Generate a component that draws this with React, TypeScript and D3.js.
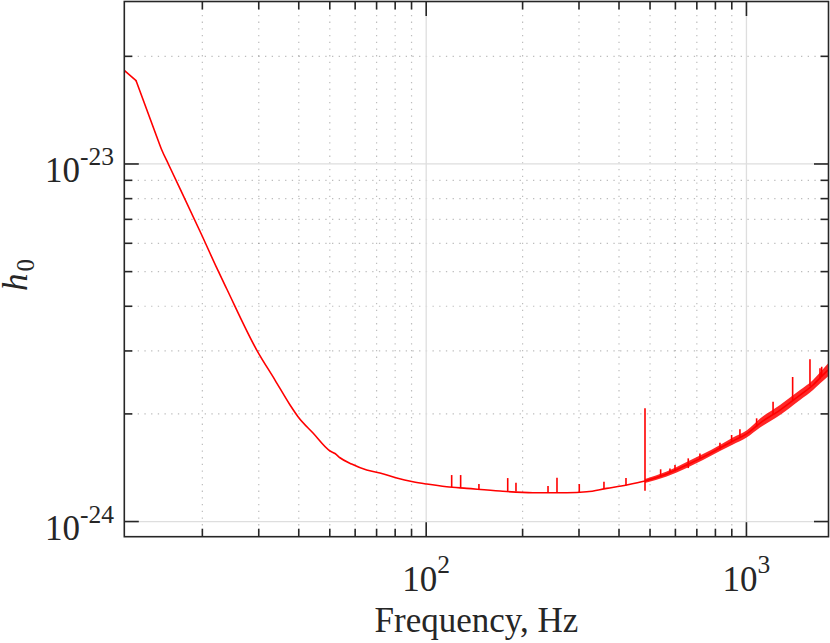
import React from 'react';
import * as d3 from 'd3';

// main trace, Hz / strain amplitude
const freqHz = [
  11.43, 12.42, 14.41, 14.94, 15.66, 19.91, 22.18, 23.84, 29.57, 33.72, 37.57,
  39.79, 44.32, 50.08, 51.9, 53.8, 58.5, 65.2, 71.7, 80.9, 90.9, 100.4, 115.9,
  133.8, 170.0, 215.5, 274.5, 317.1, 366.0, 422.7, 482.2, 563.6, 650.6, 731.6,
  826.6, 907.6, 1001, 1103, 1273, 1470, 1614, 1697, 1797,
];
const h0 = [
  1.824e-23, 1.71e-23, 1.192e-23, 1.094e-23, 1.0e-23, 6.33e-24, 5.12e-24,
  4.47e-24, 3.017e-24, 2.487e-24, 2.118e-24, 1.964e-24, 1.768e-24, 1.575e-24,
  1.55e-24, 1.508e-24, 1.448e-24, 1.393e-24, 1.367e-24, 1.323e-24, 1.292e-24,
  1.273e-24, 1.251e-24, 1.238e-24, 1.217e-24, 1.204e-24, 1.204e-24, 1.211e-24,
  1.238e-24, 1.265e-24, 1.298e-24, 1.358e-24, 1.439e-24, 1.514e-24, 1.605e-24,
  1.68e-24, 1.758e-24, 1.886e-24, 2.05e-24, 2.258e-24, 2.409e-24, 2.52e-24,
  2.653e-24,
];

// noise envelope above ~480 Hz
const bandFreq = [482.2, 563.6, 650.6, 731.6, 826.6, 907.6, 1001, 1103, 1273, 1470, 1614, 1697, 1797];
const bandLo = [1.282e-24, 1.336e-24, 1.411e-24, 1.486e-24, 1.574e-24, 1.642e-24, 1.718e-24, 1.832e-24, 1.986e-24, 2.188e-24, 2.332e-24, 2.432e-24, 2.545e-24];
const bandHi = [1.315e-24, 1.38e-24, 1.467e-24, 1.544e-24, 1.637e-24, 1.718e-24, 1.797e-24, 1.941e-24, 2.118e-24, 2.332e-24, 2.488e-24, 2.611e-24, 2.767e-24];

// narrow lines
const spikeFreq = [
  120.1, 128.1, 146.1, 179.7, 190.7, 240.1, 256.1, 300.6, 359.0, 420.6, 482.2,
  539.6, 577.0, 598.3, 658.1, 715.8, 826.6, 898.9, 954.3, 1076, 1211, 1394,
  1579, 1697, 1718,
];
const spikeLo = [
  1.249e-24, 1.245e-24, 1.233e-24, 1.217e-24, 1.213e-24, 1.201e-24, 1.201e-24,
  1.207e-24, 1.233e-24, 1.261e-24, 1.22e-24, 1.336e-24, 1.376e-24, 1.389e-24,
  1.411e-24, 1.496e-24, 1.59e-24, 1.67e-24, 1.723e-24, 1.84e-24, 1.986e-24,
  2.188e-24, 2.39e-24, 2.5e-24, 2.55e-24,
];
const spikeHi = [
  1.349e-24, 1.349e-24, 1.273e-24, 1.323e-24, 1.284e-24, 1.257e-24, 1.326e-24,
  1.273e-24, 1.292e-24, 1.323e-24, 2.073e-24, 1.4e-24, 1.408e-24, 1.439e-24,
  1.502e-24, 1.551e-24, 1.66e-24, 1.746e-24, 1.811e-24, 1.944e-24, 2.163e-24,
  2.535e-24, 2.842e-24, 2.682e-24, 2.71e-24,
];

const xMajor = [100, 1000];
const xMajorExp = ['2', '3'];
const xMinor = [20, 30, 40, 50, 60, 70, 80, 90, 200, 300, 400, 500, 600, 700, 800, 900];
const yMajor = [1e-24, 1e-23];
const yMajorExp = ['-24', '-23'];
const yMinor = [2e-24, 3e-24, 4e-24, 5e-24, 6e-24, 7e-24, 8e-24, 9e-24, 2e-23];

const W = 830;
const H = 643;
const L = 124.3, R = 828.5, T = 1.5, B = 536.7;
const INK = '#262626';
const RED = '#ff0000';
const FONT = '"Liberation Serif", "Times New Roman", serif';

const App: React.FC = () => {
  const x = d3.scaleLog().domain([11.41, 1804]).range([L, R]);
  const y = d3.scaleLog().domain([9.07e-25, 2.847e-23]).range([B, T]);

  // first step is a sharp corner, rest of the trace is smooth
  const head = d3.line<number>().x(i => x(freqHz[i])).y(i => y(h0[i]));
  const body = d3.line<number>()
    .x(i => x(freqHz[i]))
    .y(i => y(h0[i]))
    .curve(d3.curveMonotoneX);
  const band = d3.area<number>()
    .x(i => x(bandFreq[i]))
    .y0(i => y(bandLo[i]))
    .y1(i => y(bandHi[i]))
    .curve(d3.curveMonotoneX);

  const majLen = 14.5;
  const minLen = 8;

  return (
    <svg width={W} height={H} viewBox={`0 0 ${W} ${H}`}
      style={{ position: 'absolute', left: 0, top: 0, background: '#fff' }}>
      <defs>
        <clipPath id="plot-clip">
          <rect x={L} y={T} width={R - L} height={B - T} />
        </clipPath>
      </defs>

      {/* grid */}
      <g>
        {xMinor.map(v => (
          <line key={'gx' + v} x1={x(v)} x2={x(v)} y1={T} y2={B}
            stroke={INK} strokeOpacity={0.3} strokeWidth={1.2} strokeDasharray="1.3 5.4" />
        ))}
        {yMinor.map(v => (
          <line key={'gy' + v} x1={L} x2={R} y1={y(v)} y2={y(v)}
            stroke={INK} strokeOpacity={0.3} strokeWidth={1.2} strokeDasharray="1.3 5.4" />
        ))}
        {xMajor.map(v => (
          <line key={'GX' + v} x1={x(v)} x2={x(v)} y1={T} y2={B} stroke="#dedede" strokeWidth={1.3} />
        ))}
        {yMajor.map(v => (
          <line key={'GY' + v} x1={L} x2={R} y1={y(v)} y2={y(v)} stroke="#dedede" strokeWidth={1.3} />
        ))}
      </g>

      {/* data */}
      <g clipPath="url(#plot-clip)">
        <path d={band(d3.range(bandFreq.length)) ?? ''} fill={RED} fillOpacity={0.85} />
        <path d={head([0, 1]) ?? ''} fill="none" stroke={RED} strokeWidth={1.6} strokeLinecap="round" />
        <path d={body(d3.range(1, freqHz.length)) ?? ''} fill="none" stroke={RED} strokeWidth={1.6} strokeLinejoin="round" />
        {spikeFreq.map((f, i) => (
          <line key={'s' + i} x1={x(f)} x2={x(f)} y1={y(spikeLo[i])} y2={y(spikeHi[i])}
            stroke={RED} strokeWidth={1.6} />
        ))}
      </g>

      {/* ticks */}
      <g stroke={INK} strokeWidth={1.6}>
        {[...xMajor.map(v => [v, majLen]), ...xMinor.map(v => [v, minLen])].map(([v, len]) => (
          <g key={'tx' + v}>
            <line x1={x(v)} x2={x(v)} y1={B} y2={B - len} />
            <line x1={x(v)} x2={x(v)} y1={T} y2={T + len} />
          </g>
        ))}
        {[...yMajor.map(v => [v, majLen]), ...yMinor.map(v => [v, minLen])].map(([v, len]) => (
          <g key={'ty' + v}>
            <line x1={L} x2={L + len} y1={y(v)} y2={y(v)} />
            <line x1={R} x2={R - len} y1={y(v)} y2={y(v)} />
          </g>
        ))}
        <rect x={L} y={T} width={R - L} height={B - T} fill="none" />
      </g>

      {/* tick labels */}
      <g fill={INK} fontFamily={FONT}>
        {xMajor.map((v, i) => (
          <text key={'lx' + v} x={x(v)} y={590.5} textAnchor="middle" fontSize={35}>
            10<tspan dy={-17.5} fontSize={25.5}>{xMajorExp[i]}</tspan>
          </text>
        ))}
        {yMajor.map((v, i) => (
          <text key={'ly' + v} x={114} y={y(v) + 18} textAnchor="end" fontSize={35}>
            10<tspan dy={-17} fontSize={25.5}>{yMajorExp[i]}</tspan>
          </text>
        ))}
      </g>

      {/* axis labels */}
      <text x={(L + R) / 2} y={632} textAnchor="middle" fontFamily={FONT} fontSize={35} fill={INK}>
        Frequency, Hz
      </text>
      <text transform={`translate(26.5, ${(T + B) / 2 + 6}) rotate(-90)`} textAnchor="middle"
        fontFamily={FONT} fontSize={35} fill={INK}>
        <tspan fontStyle="italic">h</tspan>
        <tspan dx={2} dy={7} fontSize={25}>0</tspan>
      </text>
    </svg>
  );
};

export default App;
